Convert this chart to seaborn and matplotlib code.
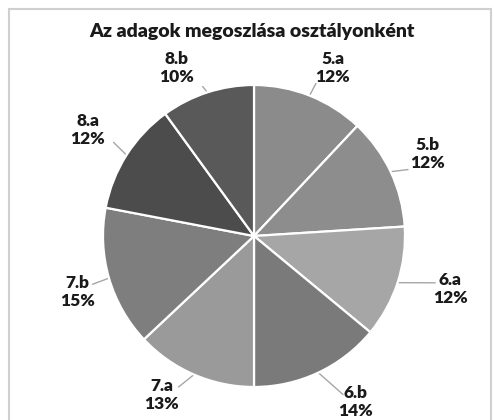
import numpy as np
import matplotlib
matplotlib.use("Agg")
import matplotlib.pyplot as plt
import seaborn as sns
from matplotlib.patches import Rectangle

# data
osztalyok = ["5.a", "5.b", "6.a", "6.b", "7.a", "7.b", "8.a", "8.b"]
szazalek = [12, 12, 12, 14, 13, 15, 12, 10]
szinek = ["#8b8b8b", "#8d8d8d", "#a6a6a6", "#7a7a7a",
          "#9a9a9a", "#7e7e7e", "#4c4c4c", "#595959"]

# label placement (pie units, radius = 1)
cimke_hely = [(0.52, 1.11), (1.15, 0.54), (1.30, -0.35), (0.67, -1.10),
              (-0.61, -1.05), (-1.17, -0.37), (-1.10, 0.70), (-0.51, 1.11)]
vonal_veg = [(0.41, 1.01), (1.02, 0.44), (1.20, -0.31), (0.59, -1.05),
             (-0.50, -1.00), (-1.07, -0.32), (-0.93, 0.62), (-0.34, 0.99)]

sns.set_theme(style="white")
plt.rcParams["font.family"] = ["Lato", "DejaVu Sans"]

fig = plt.figure(figsize=(4.94, 4.2), dpi=100)
ax = fig.add_axes([0, 0, 1, 1])

wedges, _ = ax.pie(szazalek, colors=szinek, startangle=90, counterclock=False,
                   radius=1.0, wedgeprops=dict(edgecolor="white", linewidth=1.6))

for w, lab, p, (lx, ly), (ex, ey) in zip(wedges, osztalyok, szazalek,
                                          cimke_hely, vonal_veg):
    mid = np.deg2rad((w.theta1 + w.theta2) / 2)
    sx, sy = np.cos(mid), np.sin(mid)
    ax.plot([sx, ex], [sy, ey], color="#a6a6a6", lw=1.0, zorder=0.5)
    ax.text(lx, ly, f"{lab}\n{p}%", ha="center", va="center",
            fontsize=12.5, fontweight="heavy", color="#1a1a1a",
            linespacing=1.15)

ax.set_xlim(-254 / 151, (494 - 254) / 151)
ax.set_ylim((236 - 420) / 151, 236 / 151)
ax.set_aspect("auto")
ax.axis("off")

fig.patches.append(Rectangle((9 / 494, -0.05), (491 - 9) / 494, 1.05 - 9 / 420,
                             transform=fig.transFigure, fill=False,
                             edgecolor="#d0d0d0", linewidth=1.5))
fig.text(252 / 494, 1 - 32 / 420, "Az adagok megoszlása osztályonként",
         ha="center", va="center", fontsize=14, fontweight="heavy",
         color="#1a1a1a")

fig.savefig("out.png", dpi=100, facecolor="white")
